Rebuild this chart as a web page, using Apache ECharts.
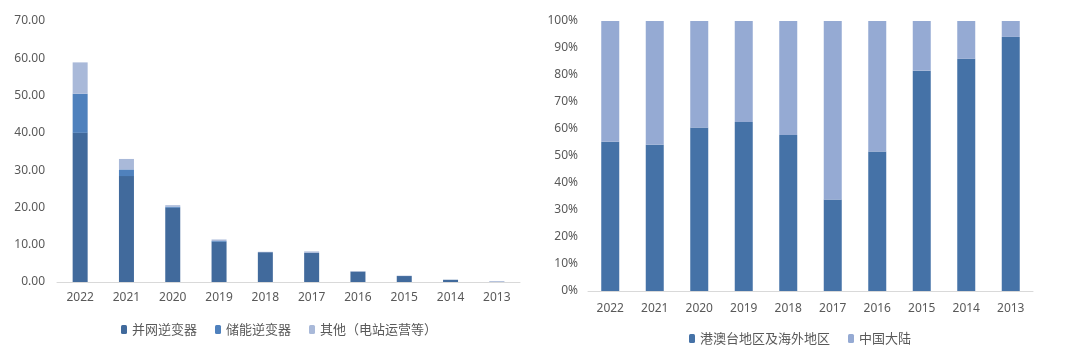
<!DOCTYPE html>
<html><head><meta charset="utf-8">
<script src="https://cdn.jsdelivr.net/npm/echarts@6/dist/echarts.min.js"></script>
<style>html,body{margin:0;padding:0;background:#fff}#c{width:1080px;height:355px}</style>
</head><body><div id="c"></div>
<script>
const years = ['2022','2021','2020','2019','2018','2017','2016','2015','2014','2013'];
const gridTied = [40.0, 28.4, 19.9, 10.8, 8.0, 7.8, 2.8, 1.6, 0.6, 0.05];
const storage  = [10.5, 1.8, 0.3, 0.2, 0.0, 0.0, 0.0, 0.0, 0.0, 0.0];
const others   = [8.4, 2.8, 0.4, 0.4, 0.1, 0.4, 0.1, 0.1, 0.0, 0.2];
const overseasPct = [55.3, 54.2, 60.6, 62.6, 57.8, 33.9, 51.7, 81.6, 86.0, 94.1];
const mainlandPct = overseasPct.map(v => +(100 - v).toFixed(1));
const leftTicks = [0, 10, 20, 30, 40, 50, 60, 70];

const txt = '#595959';
const font = '"Noto Sans", "Noto Sans CJK SC", sans-serif';
const chart = echarts.init(document.getElementById('c'));
chart.setOption({
  animation: false,
  textStyle: {fontFamily: font},
  grid: [
    {left: 57, top: 21, width: 463, height: 261},
    {left: 588, top: 21, width: 445, height: 270}
  ],
  legend: [
    {data: ['并网逆变器','储能逆变器','其他（电站运营等）'], left: 116, top: 318, itemWidth: 6, itemHeight: 9, itemGap: 18,
     textStyle: {color: txt, fontSize: 13, fontFamily: '"Noto Sans CJK SC", sans-serif'}},
    {data: ['港澳台地区及海外地区','中国大陆'], left: 684, top: 327, itemWidth: 6, itemHeight: 9, itemGap: 18,
     textStyle: {color: txt, fontSize: 13, fontFamily: '"Noto Sans CJK SC", sans-serif'}}
  ],
  xAxis: [
    {type: 'category', gridIndex: 0, data: years, axisTick: {show: false},
     axisLine: {lineStyle: {color: '#D9D9D9'}}, axisLabel: {color: txt, fontSize: 12, margin: 10}},
    {type: 'category', gridIndex: 1, data: years, axisTick: {show: false},
     axisLine: {lineStyle: {color: '#D9D9D9'}}, axisLabel: {color: txt, fontSize: 12, margin: 12}}
  ],
  yAxis: [
    {type: 'value', gridIndex: 0, min: leftTicks[0], max: leftTicks[leftTicks.length-1], interval: 10,
     splitLine: {show: false}, axisLine: {show: false}, axisTick: {show: false},
     axisLabel: {color: txt, fontSize: 12, margin: 12, formatter: v => v.toFixed(2)}},
    {type: 'value', gridIndex: 1, min: 0, max: 100, interval: 10,
     splitLine: {show: false}, axisLine: {show: false}, axisTick: {show: false},
     axisLabel: {color: txt, fontSize: 12, margin: 10, formatter: v => v + '%'}}
  ],
  series: [
    {name: '并网逆变器', type: 'bar', stack: 'a', xAxisIndex: 0, yAxisIndex: 0, data: gridTied, barWidth: 15, itemStyle: {color: '#416A9C'}},
    {name: '储能逆变器', type: 'bar', stack: 'a', xAxisIndex: 0, yAxisIndex: 0, data: storage, barWidth: 15, itemStyle: {color: '#4F81BD'}},
    {name: '其他（电站运营等）', type: 'bar', stack: 'a', xAxisIndex: 0, yAxisIndex: 0, data: others, barWidth: 15, itemStyle: {color: '#A9B9D9'}},
    {name: '港澳台地区及海外地区', type: 'bar', stack: 'b', xAxisIndex: 1, yAxisIndex: 1, data: overseasPct, barWidth: 18, itemStyle: {color: '#4572A7'}},
    {name: '中国大陆', type: 'bar', stack: 'b', xAxisIndex: 1, yAxisIndex: 1, data: mainlandPct, barWidth: 18, itemStyle: {color: '#95AAD3'}}
  ]
});
</script></body></html>
